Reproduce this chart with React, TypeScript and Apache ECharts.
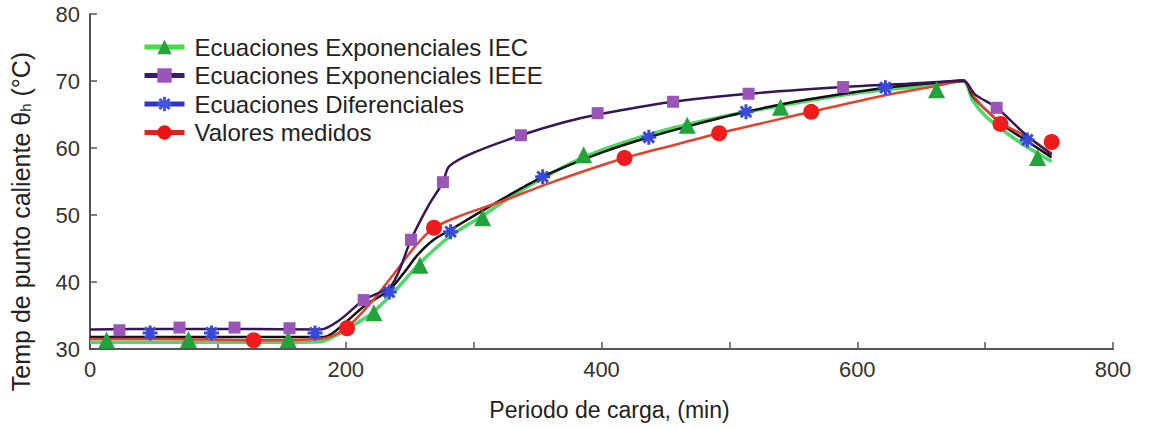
import React, { useEffect, useRef } from "react";
import * as echarts from "echarts";

// ---- data (x: min, y: °C) ----
const seriesNames = [
  "Ecuaciones Exponenciales IEC",
  "Ecuaciones Exponenciales IEEE",
  "Ecuaciones Diferenciales",
  "Valores medidos",
];

const iecCurve: number[][] = [
  [0, 31.0], [60, 31.0], [120, 31.0], [180, 31.1], [195, 32.3], [210, 34.0], [222, 35.6],
  [240, 39.0], [258, 42.8], [280, 46.6], [307, 49.9], [340, 54.0], [386, 58.6], [430, 61.6],
  [467, 63.5], [500, 64.9], [540, 66.3], [600, 68.2], [660, 69.4], [683, 70.0], [690, 67.2],
  [700, 64.8], [715, 62.5], [730, 60.5], [752, 58.0],
];
const ieeeCurve: number[][] = [
  [0, 32.9], [60, 33.0], [120, 33.0], [180, 32.9], [195, 34.3], [214, 37.3], [236, 39.6],
  [251, 46.3], [265, 51.5], [276, 54.9], [281, 57.3], [300, 59.3], [337, 61.9], [370, 63.8],
  [397, 65.0], [456, 66.9], [515, 68.1], [589, 69.1], [640, 69.6], [683, 70.0], [692, 68.0],
  [709, 66.0], [730, 62.3], [752, 59.0],
];
const difCurve: number[][] = [
  [0, 31.8], [60, 31.8], [120, 31.8], [183, 31.8], [200, 34.0], [215, 36.5], [234, 38.8],
  [246, 41.5], [256, 44.0], [268, 46.2], [282, 47.8], [310, 51.0], [354, 55.7], [400, 59.3],
  [437, 61.6], [475, 63.6], [513, 65.4], [560, 67.2], [622, 69.0], [660, 69.7], [683, 70.1],
  [690, 67.8], [700, 65.8], [715, 63.3], [733, 61.0], [752, 58.6],
];
const measCurve: number[][] = [
  [0, 31.5], [60, 31.5], [128, 31.3], [180, 31.5], [200, 33.1], [220, 37.0], [240, 41.8],
  [255, 45.5], [269, 48.1], [290, 49.9], [320, 51.9], [360, 54.8], [418, 58.5], [460, 60.6],
  [492, 62.2], [530, 63.9], [564, 65.4], [620, 67.8], [660, 69.2], [683, 70.0], [692, 67.5],
  [700, 65.8], [712, 63.8], [733, 61.6], [752, 59.2],
];

const iecMarks: number[][] = [
  [13, 31.3], [77, 31.4], [155, 31.4], [222, 35.4], [258, 42.5], [307, 49.6], [386, 59.0],
  [467, 63.4], [540, 66.1], [662, 68.7], [741, 58.6],
];
const ieeeMarks: number[][] = [
  [23, 32.8], [70, 33.2], [113, 33.2], [156, 33.1], [214, 37.3], [251, 46.3], [276, 54.9],
  [337, 61.9], [397, 65.2], [456, 66.9], [515, 68.1], [589, 69.1], [709, 66.0],
];
const difMarks: number[][] = [
  [47, 32.4], [95, 32.4], [176, 32.4], [234, 38.5], [282, 47.5], [354, 55.7], [437, 61.6],
  [513, 65.4], [622, 69.0], [733, 61.2],
];
const measMarks: number[][] = [
  [128, 31.3], [201, 33.1], [269, 48.1], [418, 58.5], [492, 62.2], [564, 65.4], [712, 63.6],
  [752, 60.9],
];

const asterisk =
  "path://M0 8L20 8L20 12L0 12ZM12 0L12 20L8 20L8 0ZM4.343 1.515L18.485 15.657L15.657 18.485L1.515 4.343ZM18.485 4.343L4.343 18.485L1.515 15.657L15.657 1.515Z";

const FONT = "'Liberation Sans', Arial, sans-serif";

export default function App() {
  const ref = useRef<HTMLDivElement>(null);
  useEffect(() => {
    if (!ref.current) return;
    const chart = echarts.init(ref.current, undefined, { renderer: "svg" });

    const lineSeries = (name: string, data: number[][], color: string, width: number, symbol: string, z: number) => ({
      type: "line",
      name,
      data,
      smooth: 0.3,
      symbol,
      showSymbol: false,
      lineStyle: { color, width },
      itemStyle: { color },
      z,
    });
    const markSeries = (name: string, data: number[][], color: string, symbol: string, size: number) => ({
      type: "scatter",
      name,
      data,
      symbol,
      symbolSize: size,
      itemStyle: { color, opacity: 1 },
      z: 5,
    });

    chart.setOption({
      animation: false,
      backgroundColor: "#ffffff",
      grid: { left: 88, right: 38, top: 14, bottom: 80 },
      legend: {
        orient: "vertical",
        left: 137,
        top: 30,
        itemWidth: 40,
        itemHeight: 18,
        itemGap: 4.5,
        textStyle: { fontFamily: FONT, fontSize: 24, color: "#222", lineHeight: 24, padding: [0, 0, 0, 5] },
        data: [
          { name: seriesNames[0], itemStyle: { color: "#22a33c" }, lineStyle: { color: "#44dd44", width: 5 } },
          { name: seriesNames[1], itemStyle: { color: "#9a55b8" }, lineStyle: { color: "#3b1a6e", width: 5 } },
          { name: seriesNames[2], itemStyle: { color: "#4455dd" }, lineStyle: { color: "#3333cc", width: 5 } },
          { name: seriesNames[3], itemStyle: { color: "#ee1111" }, lineStyle: { color: "#dd2222", width: 5 } },
        ],
      },
      xAxis: {
        type: "value",
        min: 0,
        max: 800,
        interval: 100,
        name: "Periodo de carga, (min)",
        nameLocation: "middle",
        nameGap: 49,
        nameTextStyle: { fontFamily: FONT, fontSize: 23, color: "#222", padding: [0, 0, 0, 16] },
        axisLine: { lineStyle: { color: "#555", width: 2 } },
        axisTick: { inside: true, length: 7, lineStyle: { color: "#555", width: 1.5 } },
        axisLabel: {
          fontFamily: FONT,
          fontSize: 22,
          color: "#333",
          margin: 9,
          formatter: (v: number) => (v % 200 === 0 ? String(v) : ""),
        },
        splitLine: { show: false },
      },
      yAxis: {
        type: "value",
        min: 30,
        max: 80,
        interval: 10,
        name: "{a|Temp de punto caliente θ}{s|h}{a| (°C)}",
        nameLocation: "middle",
        nameGap: 57,
        nameRotate: 90,
        nameTextStyle: {
          fontFamily: FONT,
          color: "#222",
          padding: [0, 80, 0, 0],
          rich: {
            a: { fontFamily: FONT, fontSize: 25, color: "#222" },
            s: { fontFamily: FONT, fontSize: 15, color: "#222", verticalAlign: "bottom", padding: [9, 0, 0, 0] },
          },
        },
        axisLine: { show: true, lineStyle: { color: "#555", width: 2 } },
        axisTick: { show: true, inside: true, length: 7, lineStyle: { color: "#555", width: 1.5 } },
        axisLabel: { fontFamily: FONT, fontSize: 22, color: "#333", margin: 10 },
        splitLine: { show: false },
      },
      series: [
        lineSeries(seriesNames[0], iecCurve, "#4fd86a", 3.5, "triangle", 1),
        lineSeries(seriesNames[1], ieeeCurve, "#3a1458", 2.5, "rect", 3),
        lineSeries(seriesNames[2], difCurve, "#111111", 2.5, asterisk, 2),
        lineSeries(seriesNames[3], measCurve, "#e4402c", 2.5, "circle", 2),
        markSeries(seriesNames[0], iecMarks, "#22a33c", "triangle", 17),
        markSeries(seriesNames[1], ieeeMarks, "#9a55b8", "rect", 12),
        markSeries(seriesNames[2], difMarks, "#3a4ad8", asterisk, 15),
        markSeries(seriesNames[3], measMarks, "#ee1c1c", "circle", 16),
      ],
    });
    return () => chart.dispose();
  }, []);
  return (
    <div
      ref={ref}
      style={{ position: "fixed", left: 0, top: 0, width: 1151, height: 429, background: "#fff" }}
    />
  );
}
